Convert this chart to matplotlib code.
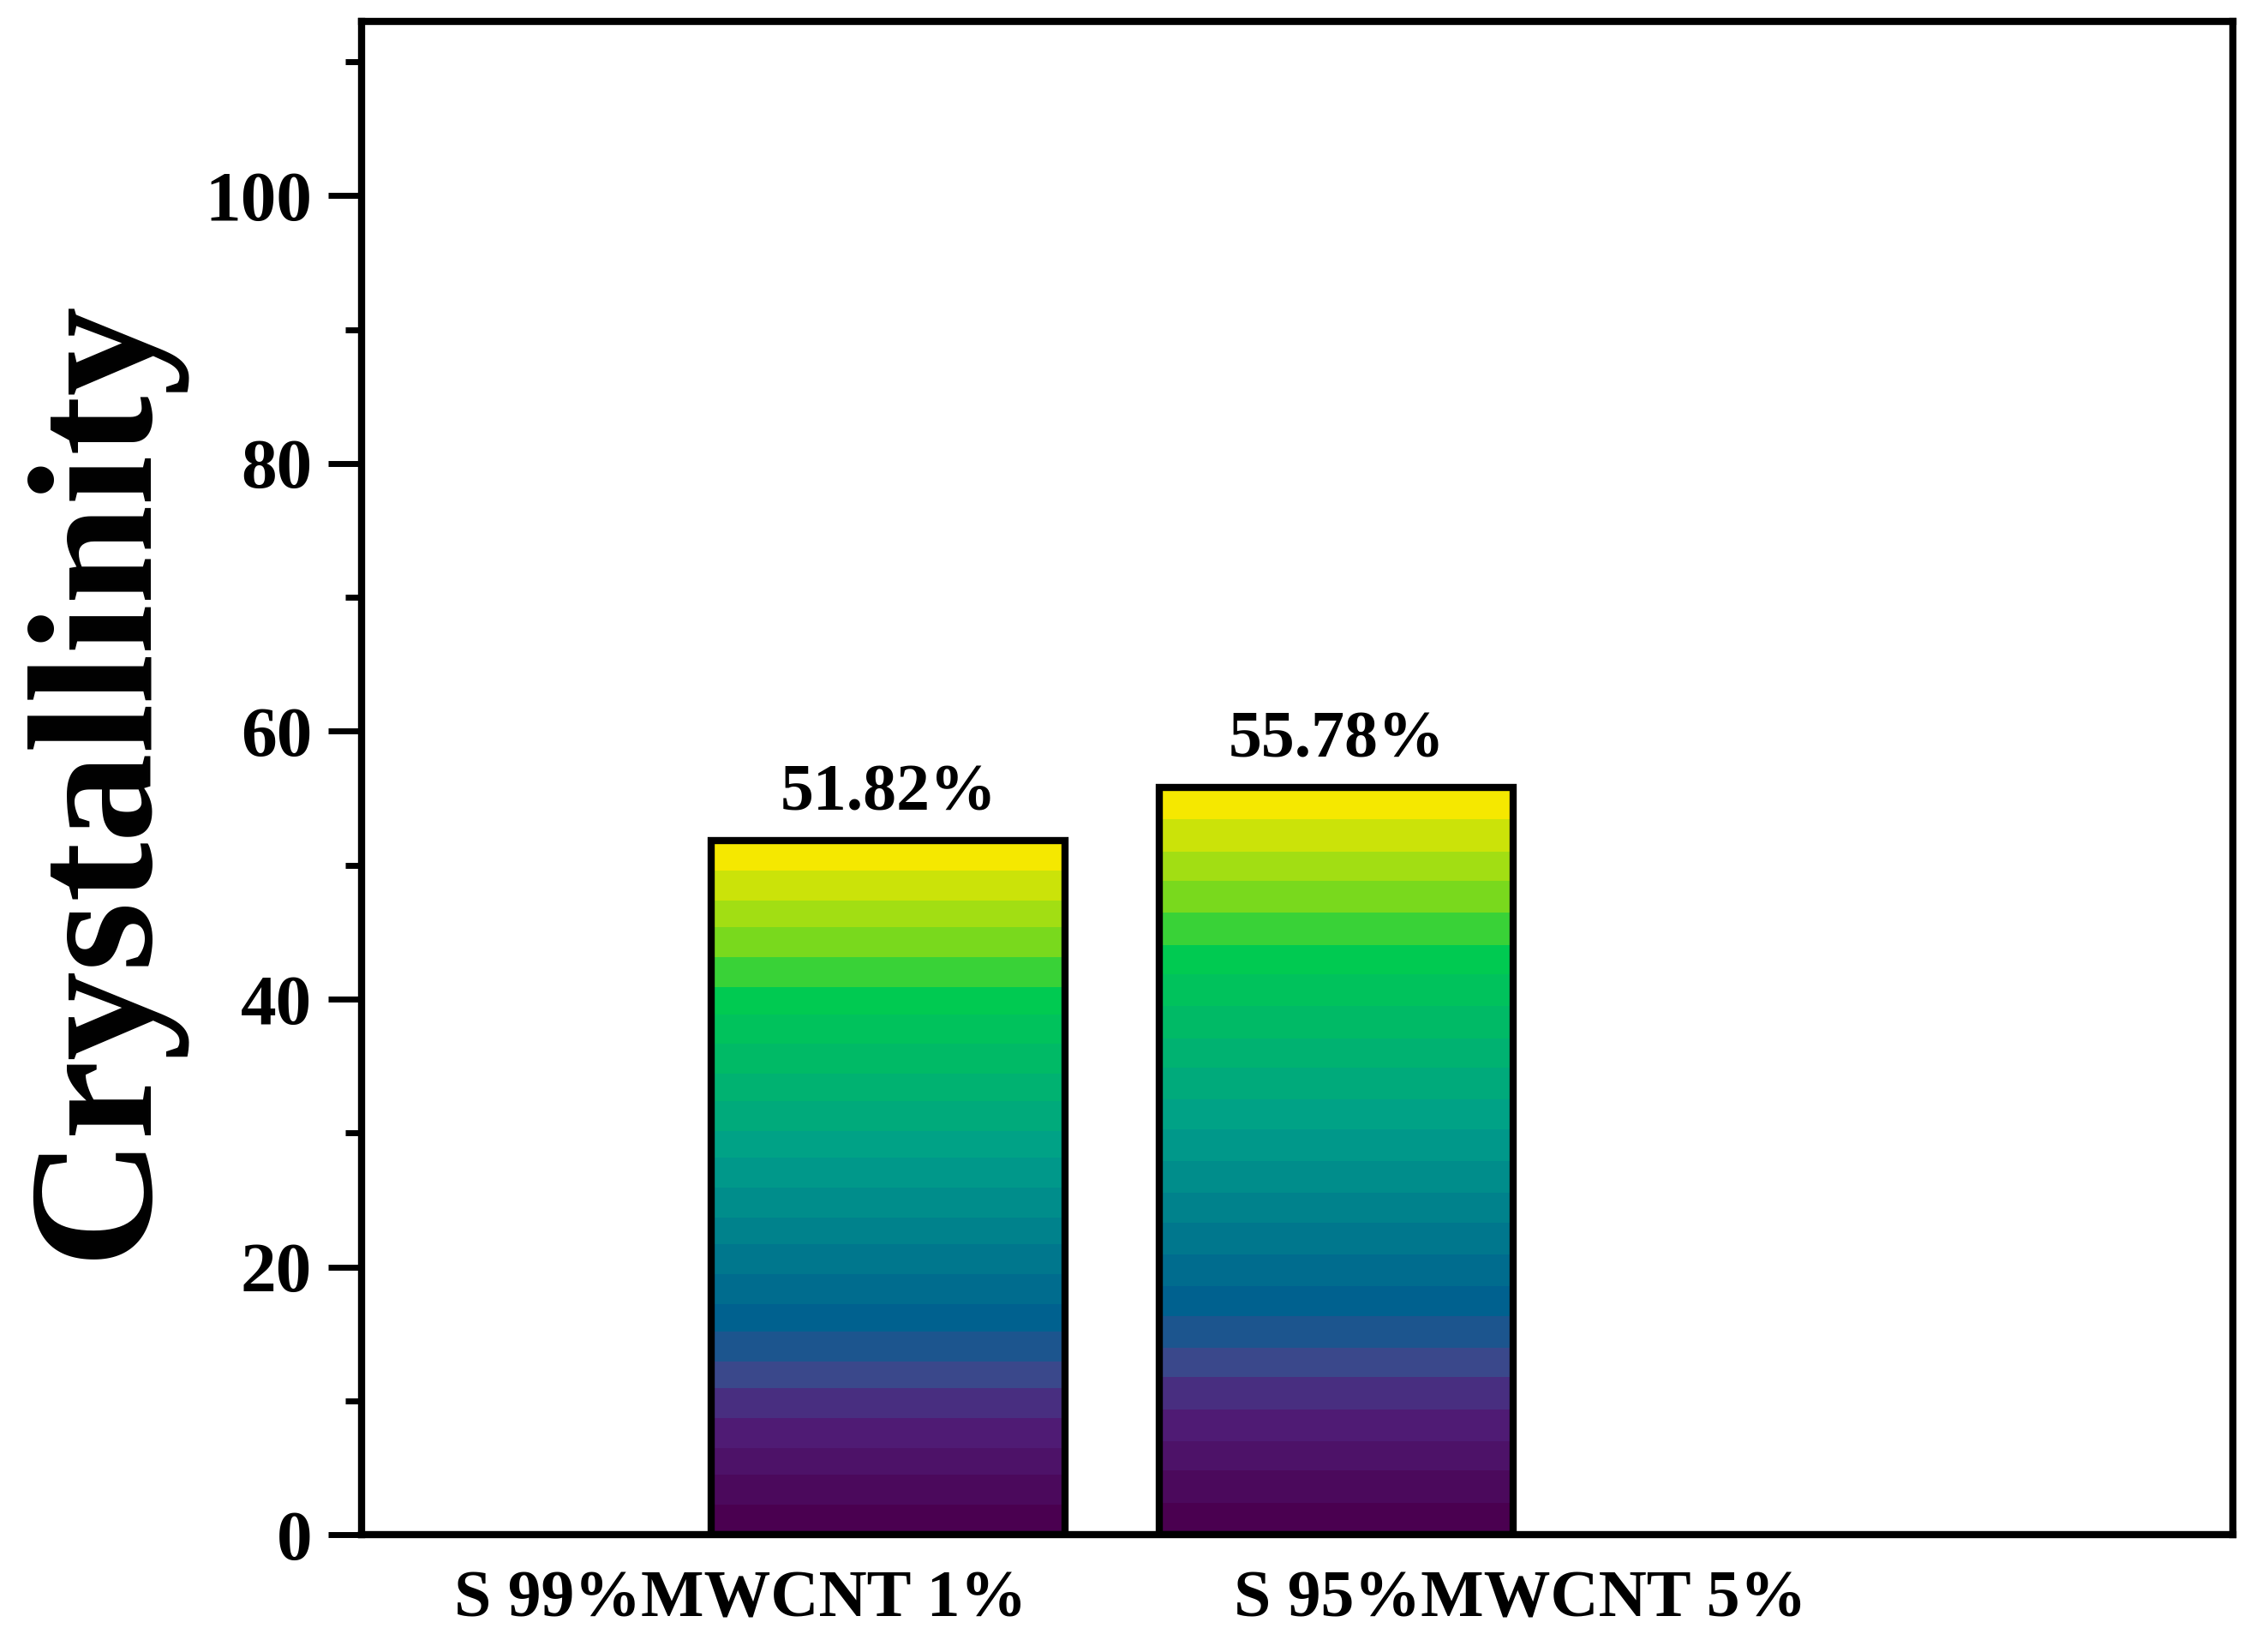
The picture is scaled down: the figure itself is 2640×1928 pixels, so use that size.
import matplotlib
matplotlib.use("Agg")
import matplotlib.pyplot as plt
import numpy as np
from matplotlib.colors import LinearSegmentedColormap

categories = ["S 99%MWCNT 1%", "S 95%MWCNT 5%"]
values = [51.82, 55.78]
value_labels = ["51.82%", "55.78%"]
bar_pos = [1, 2]
label_pos = [0.67, 2.41]

plt.rcParams['font.family'] = ['Liberation Serif', 'DejaVu Serif']
plt.rcParams['font.weight'] = 'bold'

cmap = LinearSegmentedColormap.from_list("g", [
    (0.0, "#4a0050"), (0.15, "#50207a"), (0.22, "#3a4a8c"), (0.3, "#006090"),
    (0.55, "#00a08a"), (0.79, "#00cc50"), (0.86, "#70d820"), (1.0, "#f5e800")], N=24)

fig = plt.figure(figsize=(26.4, 19.28), dpi=100)
ax = fig.add_axes([0.160, 0.071, 0.827, 0.916])
ax.set_xlim(-0.175, 4.0)
ax.set_ylim(0, 113)

grad = np.linspace(0, 1, 256).reshape(-1, 1)
for x, v, t in zip(bar_pos, values, value_labels):
    b = ax.bar(x, v, width=0.79, facecolor='none', edgecolor='black', linewidth=6, zorder=3)[0]
    im = ax.imshow(grad, cmap=cmap, origin='lower', aspect='auto',
                   extent=(x - 0.395, x + 0.395, 0, v), zorder=2, interpolation='nearest')
    im.set_clip_path(b)
    ax.text(x, v + 1.2, t, ha='center', va='bottom', fontsize=56, fontweight='bold')
ax.set_xlim(-0.175, 4.0)
ax.set_ylim(0, 113)

ax.set_xticks(label_pos)
ax.set_xticklabels(categories, fontsize=56, fontweight='bold')
ax.tick_params(axis='x', length=0, pad=30)
ax.set_yticks(range(0, 101, 20))
ax.set_yticks(range(10, 111, 20), minor=True)
ax.tick_params(axis='y', which='major', labelsize=60, length=28, width=5, pad=14)
ax.tick_params(axis='y', which='minor', length=14, width=5)
for s in ax.spines.values():
    s.set_linewidth(6)
ax.set_ylabel("Crystallinity", fontsize=150, fontweight='bold', labelpad=20)
fig.savefig("out.png", dpi=100)
